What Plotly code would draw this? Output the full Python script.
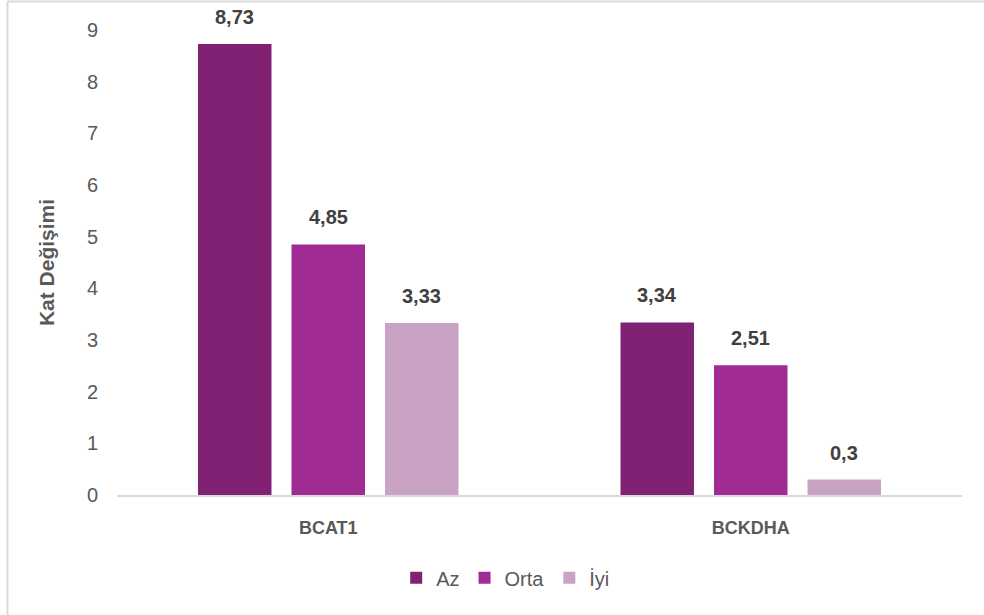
import plotly.graph_objects as go

genes = ["BCAT1", "BCKDHA"]
series_names = ["Az", "Orta", "İyi"]
az = [8.73, 3.34]
orta = [4.85, 2.51]
iyi = [3.33, 0.30]
series_values = [az, orta, iyi]
colors = ["#812174", "#A02B93", "#C9A3C4"]
y_ticks = list(range(0, 10))

W, H = 984, 615
ML, MR, MT, MB = 117, 22, 30, 120
BARGAP, GROUPGAP = 0.336, 0.214
FONT = "Liberation Sans, Arial, sans-serif"

fig = go.Figure()
for name, vals, col in zip(series_names, series_values, colors):
    fig.add_trace(go.Bar(
        name=name, x=genes, y=vals, marker_color=col,
        marker_line_width=0, hoverinfo="skip",
    ))

# value labels above each bar, shifted to each trace's slot in the group
plot_w = W - ML - MR
cat_w = plot_w / len(genes)
slot = cat_w * (1 - BARGAP) / len(series_names)
for i, vals in enumerate(series_values):
    dx = (i - (len(series_names) - 1) / 2) * slot
    for g, v in zip(genes, vals):
        fig.add_annotation(
            x=g, y=v, xshift=dx, yshift=27, yanchor="middle",
            text=f"<b>{v:g}</b>".replace(".", ","), showarrow=False,
            font=dict(family=FONT, size=20, color="#404040"),
        )

# light frame along the top and left edges
ph = H - MT - MB
x0 = (7.5 - ML) / plot_w
y_top = (H - MB - 1.5) / ph
y_bot = (H - MB - H) / ph
x_right = (W - ML) / plot_w
frame = dict(color="#D9D9D9", width=2)
fig.add_shape(type="line", xref="paper", yref="paper", x0=x0, x1=x0, y0=y_bot, y1=y_top, line=frame)
fig.add_shape(type="line", xref="paper", yref="paper", x0=x0, x1=x_right, y0=y_top, y1=y_top, line=frame)

fig.update_layout(
    width=W, height=H,
    margin=dict(l=ML, r=MR, t=MT, b=MB),
    paper_bgcolor="white", plot_bgcolor="white",
    barmode="group", bargap=BARGAP, bargroupgap=GROUPGAP,
    font=dict(family=FONT, color="#595959"),
    xaxis=dict(
        showline=True, linecolor="#D9D9D9", linewidth=1.5,
        showgrid=False, ticks="", ticklabelstandoff=16,
        tickfont=dict(size=18, color="#595959", family=FONT, weight="bold"),
    ),
    yaxis=dict(
        range=[0, 9], tickvals=y_ticks, showgrid=False, zeroline=False, showline=False,
        tickfont=dict(size=20, color="#595959"), ticklabelstandoff=18,
        title=dict(text="<b>Kat Değişimi</b>", font=dict(size=21, color="#595959"), standoff=26),
    ),
    legend=dict(
        orientation="h", x=0.46, xanchor="center", y=-0.178, yanchor="middle",
        font=dict(size=20, color="#595959"), itemwidth=30, traceorder="normal",
    ),
    showlegend=True,
)

fig.write_html("out.html")
